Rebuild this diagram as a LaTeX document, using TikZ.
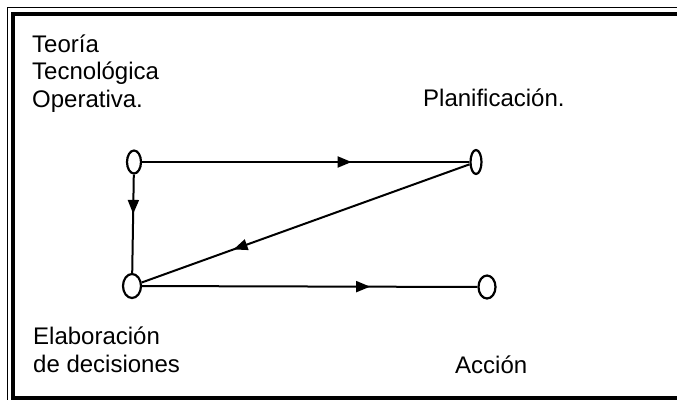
\documentclass[tikz,border=0pt]{standalone}
\usepackage{fontspec}
\setmainfont{Liberation Sans}
\usetikzlibrary{shapes.geometric,arrows.meta,decorations.markings}

\tikzset{
    stage/.style={draw, ellipse, inner sep=0pt, line width=2.2pt},
    flow/.style={line width=2pt, postaction={decorate},
        decoration={markings, mark=at position #1 with {\arrow{Triangle[length=14pt,width=11pt]}}}},
    label/.style={anchor=base west, align=left, inner sep=0pt, font=\fontsize{24}{27.5}\selectfont}
}

\begin{document}
\begin{tikzpicture}[x=1pt,y=-1pt]
    \useasboundingbox (0,0) rectangle (677,399);

    % Frame (open on the right)
    \draw[line width=1.2pt] (690,7.5) -- (7.5,7.5) -- (7.5,405);
    \draw[line width=4pt] (690,14) -- (13,14) -- (13,397.5) -- (690,397.5);

    % The four stages
    \node[stage, minimum width=14pt, minimum height=23pt] (theory) at (134,162) {};
    \node[stage, minimum width=11pt, minimum height=24pt] (plan) at (476,162) {};
    \node[stage, minimum width=18pt, minimum height=24pt] (decide) at (132,286) {};
    \node[stage, minimum width=17pt, minimum height=23pt] (act) at (487,287) {};

    % Labels (base = last line)
    \node[label] (theorytext) at (32,107) {Teoría\\Tecnológica\\Operativa.};
    \node[label] (plantext) at (423,106) {Planificación.};
    \node[label] (decidetext) at (33,372) {Elaboración\\de decisiones};
    \node[label] (acttext) at (455,373) {Acción};

    % Connections
    \draw[flow=0.64] (theory) -- (plan);
    \draw[flow=0.40] (theory) -- (decide);
    \draw[flow=0.72] (plan) -- (decide);
    \draw[flow=0.68] (decide) -- (act);

\end{tikzpicture}
\end{document}
